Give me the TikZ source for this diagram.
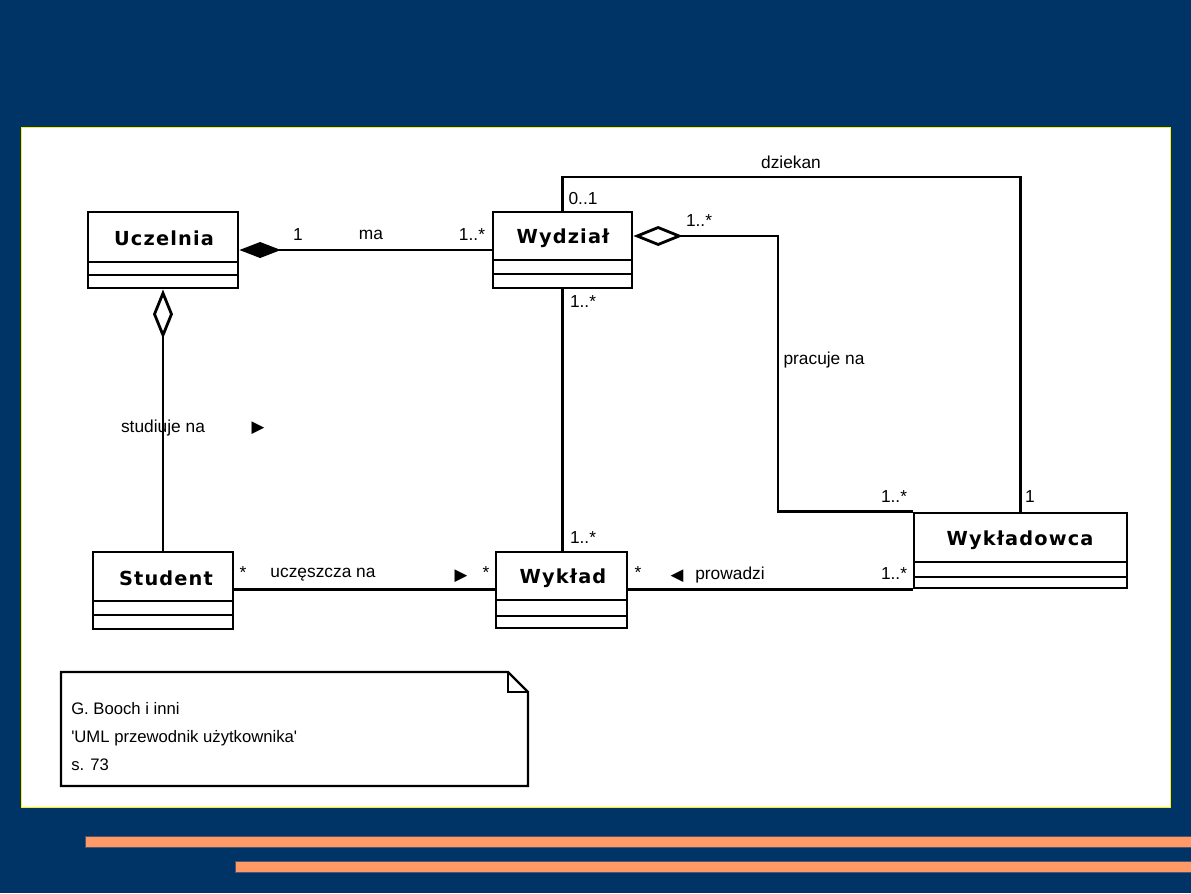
\documentclass[tikz,border=0pt]{standalone}
\usepackage{fontspec}
\setmainfont{Liberation Sans}
\newfontfamily\clsfont{DejaVu Sans}[LetterSpace=6]
\newfontfamily\symfont{DejaVu Sans}
\usetikzlibrary{arrows.meta,fit}
\definecolor{bgblue}{RGB}{0,51,102}
\definecolor{stripe}{RGB}{255,153,102}
\definecolor{stripeedge}{RGB}{80,85,115}
\begin{document}
\begin{tikzpicture}[x=0.75pt,y=-0.75pt,
  box/.style={draw, line width=2.2pt, inner sep=0pt, fill=white},
  sepline/.style={line width=2.2pt},
  clsname/.style={font=\clsfont\bfseries\fontsize{14.5}{17}\selectfont, inner sep=0pt},
  lbl/.style={font=\fontsize{13}{15}\selectfont, inner sep=0pt},
  sym/.style={font=\symfont\fontsize{12.5}{13}\selectfont, inner sep=0pt},
  conn/.style={line width=2.1pt},
  filldia/.style={{Diamond[length=31pt,width=12pt]}-},
  opendia/.style={{Diamond[open,fill=white,length=37pt,width=15pt]}-},
  notebox/.style={draw, line width=1.8pt, fill=white, line join=miter}
]
\useasboundingbox (0,0) rectangle (1191,893);
% background
\fill[bgblue] (0,0) rectangle (1191,893);
\fill[white, draw=yellow, line width=0.6pt] (21,127) rectangle (1170,807);
\fill[stripe, draw=stripeedge, line width=0.5pt] (85,836) rectangle (1191,847);
\fill[stripe, draw=stripeedge, line width=0.5pt] (235,861) rectangle (1191,872);

% classes
\node[box, fit={(88,212) (238,288)}] (ucz) {};
\node[clsname] (uczn) at (164,238) {Uczelnia};
\draw[sepline] (88,262) -- (238,262) (88,275) -- (238,275);

\node[box, fit={(493,212) (632,288)}] (wyd) {};
\node[clsname] (wydn) at (563,238) {Wydział};
\draw[sepline] (493,260) -- (632,260) (493,274) -- (632,274);

\node[box, fit={(93,552) (233,629)}] (stu) {};
\node[clsname] (stun) at (166,578) {Student};
\draw[sepline] (93,601) -- (233,601) (93,615) -- (233,615);

\node[box, fit={(496,552) (627,628)}] (wyk) {};
\node[clsname] (wykn) at (563,578) {Wykład};
\draw[sepline] (496,600) -- (627,600) (496,616) -- (627,616);

\node[box, fit={(914,513) (1127,588)}] (wdc) {};
\node[clsname] (wdcn) at (1020,540) {Wykładowca};
\draw[sepline] (914,562) -- (1127,562) (914,577) -- (1127,577);

% connectors
\draw[conn, filldia] (ucz.east) -- (wyd.west);
\draw[conn, opendia] (ucz.south) -- (stu.north);
\draw[conn] (wyd.south) -- (wyd.south |- wyk.north);
\draw[conn, opendia] ([yshift=10.5pt]wyd.east) -| (778,400) |- (wdc.north west);
\draw[conn] (wyd.north) |- (800,177) -| (wdc.north);
\draw[conn] (stu.east |- wdc.south west) -- (wyk.west |- wdc.south west);
\draw[conn] (wyk.east |- wdc.south west) -- (wdc.south west);

% labels
\node[lbl] (l1) at (298,235) {1};
\node[lbl] (lma) at (371,235) {ma};
\node[lbl] (l2) at (472,235) {1..*};
\node[lbl] (l3) at (583,199) {0..1};
\node[lbl] (l4) at (699,221) {1..*};
\node[lbl] (l5) at (583,302) {1..*};
\node[lbl] (ldz) at (791,162) {dziekan};
\node[lbl] (lpr) at (824,360) {pracuje na};
\node[lbl] (lst) at (163,428) {studiuje na};
\node[sym] (ast) at (258,428) {▶};
\node[lbl] (l6) at (583,538) {1..*};
\node[lbl] (l7) at (894,497) {1..*};
\node[lbl] (l8) at (1030,497) {1};
\node[lbl] (l9) at (894,574) {1..*};
\node[lbl] (l10) at (243,573) {*};
\node[lbl] (luc) at (323,575) {uczęszcza na};
\node[sym] (auc) at (461,576) {▶};
\node[lbl] (l11) at (486,573) {*};
\node[lbl] (l12) at (638,573) {*};
\node[sym] (apr) at (677,576) {◀};
\node[lbl] (lpw) at (730,575) {prowadzi};

% note
\draw[notebox] (61,672) -- (508,672) -- (528,692) -- (528,786) -- (61,786) -- cycle;
\draw[line width=1pt] (508,672) -- (508,692) -- (528,692);
\node[lbl, anchor=west, align=left, font=\fontsize{12.5}{21}\selectfont] (note) at (71,737)
  {G. Booch i inni\\\textquotesingle UML przewodnik użytkownika\textquotesingle\\s. 73};
\end{tikzpicture}
\end{document}
